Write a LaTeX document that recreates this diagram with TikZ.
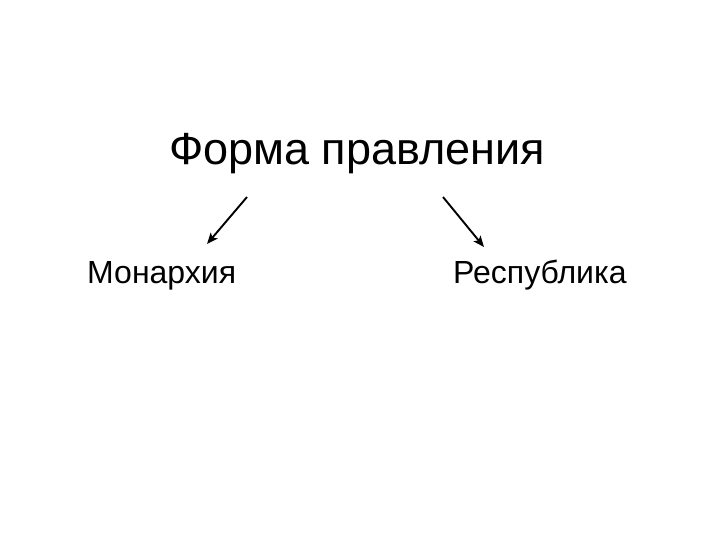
\documentclass[tikz,border=0pt]{standalone}
\usepackage{fontspec}
\setmainfont{Liberation Sans}
\usetikzlibrary{arrows.meta}
\begin{document}
\begin{tikzpicture}[x=1pt,y=-1pt,
  title/.style={inner sep=0pt,anchor=base,font=\fontsize{45}{50}\selectfont},
  label/.style={inner sep=0pt,anchor=base west,font=\fontsize{32}{36}\selectfont},
  conn/.style={line width=1.9pt,-{Stealth[length=11pt,width=9pt,inset=2.5pt]}}]
\useasboundingbox[fill=white] (0,0) rectangle (720,540);
\node[title] (t) at (357,165) {Форма правления};
\node[label] (m) at (87,283) {Монархия};
\node[label] (r) at (453,283) {Республика};
\coordinate (ls) at (247,197);
\coordinate (le) at (207,244);
\coordinate (rs) at (443,197);
\coordinate (re) at (484,247);
\draw[conn] (ls) -- (le);
\draw[conn] (rs) -- (re);
\end{tikzpicture}
\end{document}
